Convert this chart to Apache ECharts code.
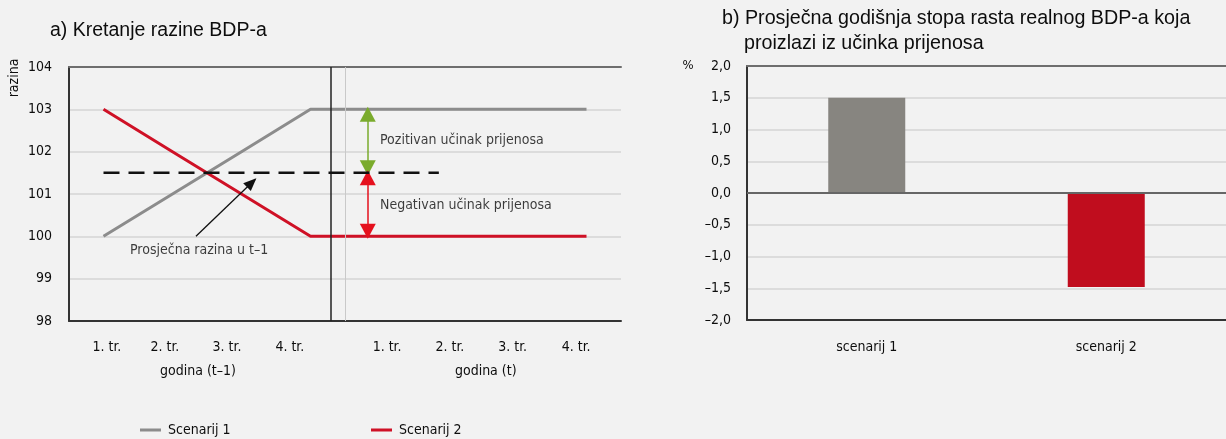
<!DOCTYPE html>
<html><head><meta charset="utf-8">
<script src="https://cdn.jsdelivr.net/npm/echarts@6/dist/echarts.min.js"></script>
<style>html,body{margin:0;background:#f2f2f2}#c{width:1226px;height:439px}</style>
</head><body><div id="c"></div>
<script>
// ---- data ----
const quarters = ['1. tr.', '2. tr.', '3. tr.', '4. tr.', '1. tr.', '2. tr.', '3. tr.', '4. tr.'];
const yearLabels = ['godina (t–1)', 'godina (t)'];
const seriesNames = ['Scenarij 1', 'Scenarij 2'];
const scenario1 = [100, 101, 102, 103, 103, 103, 103, 103];
const scenario2 = [103, 102, 101, 100, 100, 100, 100, 100];
const averageLevel = 101.5;
const levelTop = 103;
const levelBottom = 100;
const barCategories = ['scenarij 1', 'scenarij 2'];
const barValues = [1.5, -1.48];
const annotationTexts = ['Pozitivan učinak prijenosa', 'Negativan učinak prijenosa', 'Prosječna razina u t–1'];

// ---- layout helpers (positions on the 0..8 quarter scale) ----
const quarterLabelPos = [0.55, 1.39, 2.29, 3.2, 4.61, 5.52, 6.43, 7.35];
const yearLabelPos = [1.87, 6.04];
const FONT = "'DejaVu Sans Condensed', 'Liberation Sans Narrow', sans-serif";
const TFONT = "'Liberation Sans', Arial, sans-serif";
const FS = 14;
const TXT = '#0d0d0d';
const GRID = '#d5d5d5';
const GRAY = '#8c8c8c';
const RED = '#cf1126';

function nearestIdx(arr, v) {
  let b = 0;
  for (let i = 1; i < arr.length; i++) if (Math.abs(arr[i] - v) < Math.abs(arr[b] - v)) b = i;
  return b;
}
const fmtPct = v => (v < 0 ? '–' : '') + Math.abs(v).toFixed(1).replace('.', ',');

const chart = echarts.init(document.getElementById('c'), null, { renderer: 'canvas' });
const hiddenAxis = { axisLine: { show: false }, axisTick: { show: false }, axisLabel: { show: false }, splitLine: { show: false } };
const tri = { symbol: 'triangle', symbolSize: [16, 15], symbolOffset: [0, 5] };

const option = {
  backgroundColor: '#f2f2f2',
  animation: false,
  textStyle: { fontFamily: FONT, fontSize: FS, color: TXT },
  title: [
    { text: 'a) Kretanje razine BDP-a', left: 50, top: 21, padding: 0, textStyle: { fontFamily: TFONT, fontSize: 19.5, fontWeight: 'normal', color: TXT } },
    { text: 'b) Prosječna godišnja stopa rasta realnog BDP-a koja', left: 722, top: 9, padding: 0, textStyle: { fontFamily: TFONT, fontSize: 19.7, fontWeight: 'normal', color: TXT } },
    { text: 'proizlazi iz učinka prijenosa', left: 744, top: 34, padding: 0, textStyle: { fontFamily: TFONT, fontSize: 19.7, fontWeight: 'normal', color: TXT } }
  ],
  legend: [
    { data: [seriesNames[0]], left: 140, top: 423, icon: 'rect', itemWidth: 21, itemHeight: 3, padding: 0, textStyle: { fontFamily: FONT, fontSize: FS, color: TXT, padding: [0, 0, 0, 2] } },
    { data: [seriesNames[1]], left: 371, top: 423, icon: 'rect', itemWidth: 21, itemHeight: 3, padding: 0, textStyle: { fontFamily: FONT, fontSize: FS, color: TXT, padding: [0, 0, 0, 2] } }
  ],
  graphic: [
    { type: 'text', x: 14, y: 78, rotation: Math.PI / 2, style: { text: 'razina', align: 'center', verticalAlign: 'middle', fontFamily: FONT, fontSize: FS, fill: TXT } },
    { type: 'text', x: 688, y: 66, style: { text: '%', align: 'center', verticalAlign: 'middle', fontFamily: FONT, fontSize: 13, fill: TXT } }
  ],
  grid: [
    { left: 69, top: 67, width: 552, height: 254 },
    { left: 747, top: 66, width: 480, height: 254 }
  ],
  xAxis: [
    { type: 'category', gridIndex: 0, data: quarters, boundaryGap: true, position: 'bottom',
      axisLine: { onZero: false, lineStyle: { color: '#333', width: 2 } }, axisTick: { show: false }, axisLabel: { show: false }, splitLine: { show: false } },
    Object.assign({ type: 'value', gridIndex: 0, min: 0, max: 8, position: 'bottom' }, hiddenAxis),
    { type: 'value', gridIndex: 0, min: 0, max: 8, position: 'bottom',
      axisLine: { show: false }, axisTick: { show: false }, splitLine: { show: false },
      axisLabel: { customValues: quarterLabelPos, margin: 19, fontSize: FS, color: TXT, fontFamily: FONT,
        formatter: v => quarters[nearestIdx(quarterLabelPos, v)] } },
    { type: 'value', gridIndex: 0, min: 0, max: 8, position: 'bottom',
      axisLine: { show: false }, axisTick: { show: false }, splitLine: { show: false },
      axisLabel: { customValues: yearLabelPos, margin: 43, fontSize: FS, color: TXT, fontFamily: FONT,
        formatter: v => yearLabels[nearestIdx(yearLabelPos, v)] } },
    { type: 'value', gridIndex: 0, min: 0, max: 8, position: 'top',
      axisLine: { show: true, onZero: false, lineStyle: { color: '#6e6e6e', width: 2 } }, axisTick: { show: false }, axisLabel: { show: false }, splitLine: { show: false } },
    { type: 'category', gridIndex: 1, data: barCategories, position: 'bottom',
      axisLine: { onZero: false, lineStyle: { color: '#333', width: 2 } }, axisTick: { show: false },
      axisLabel: { margin: 20, fontSize: FS, color: TXT, fontFamily: FONT }, splitLine: { show: false } },
    { type: 'category', gridIndex: 1, data: barCategories, position: 'top',
      axisLine: { show: true, onZero: false, lineStyle: { color: '#6e6e6e', width: 2 } }, axisTick: { show: false }, axisLabel: { show: false }, splitLine: { show: false } }
  ],
  yAxis: [
    { type: 'value', gridIndex: 0, min: 98, max: 104, interval: 1,
      axisLine: { show: true, lineStyle: { color: '#333', width: 2 } }, axisTick: { show: false },
      axisLabel: { margin: 17, fontSize: FS, color: TXT, fontFamily: FONT },
      splitLine: { lineStyle: { color: GRID, width: 1.5 } } },
    { type: 'value', gridIndex: 1, min: -2, max: 2, interval: 0.5,
      axisLine: { show: true, lineStyle: { color: '#333', width: 2 } }, axisTick: { show: false },
      axisLabel: { margin: 16, fontSize: FS, color: TXT, fontFamily: FONT, formatter: fmtPct },
      splitLine: { lineStyle: { color: GRID, width: 1.5 } } }
  ],
  series: [
    { name: seriesNames[0], type: 'line', xAxisIndex: 0, yAxisIndex: 0, data: scenario1, symbol: 'none',
      lineStyle: { color: GRAY, width: 3 }, itemStyle: { color: GRAY }, z: 3 },
    { name: seriesNames[1], type: 'line', xAxisIndex: 0, yAxisIndex: 0, data: scenario2, symbol: 'none',
      lineStyle: { color: RED, width: 3 }, itemStyle: { color: RED }, z: 4 },
    { type: 'line', xAxisIndex: 1, yAxisIndex: 0, data: [[0.5, averageLevel], [5.36, averageLevel]], symbol: 'none', silent: true,
      lineStyle: { color: '#111', width: 2.5, type: [16, 9] }, z: 5,
      markLine: {
        silent: true, symbol: 'none', label: { show: false }, animation: false,
        data: [
          [{ coord: [3.8, 98] }, { coord: [3.8, 104], lineStyle: { color: '#222', width: 1.5, type: 'solid' } }],
          [{ coord: [4.0, 98] }, { coord: [4.0, 104], lineStyle: { color: '#c9c9c9', width: 1, type: 'solid' } }],
          [Object.assign({ coord: [4.33, levelTop] }, tri), Object.assign({ coord: [4.33, averageLevel], lineStyle: { color: '#7aab2c', width: 1.5, type: 'solid' }, itemStyle: { color: '#7aab2c' } }, tri)],
          [Object.assign({ coord: [4.33, averageLevel] }, tri), Object.assign({ coord: [4.33, levelBottom], lineStyle: { color: '#e5101d', width: 1.5, type: 'solid' }, itemStyle: { color: '#e5101d' } }, tri)],
          [{ coord: [1.84, 100.0] }, { coord: [2.70, 101.35], symbol: 'triangle', symbolSize: [11, 13], symbolOffset: [0, 5], lineStyle: { color: '#111', width: 1.3, type: 'solid' }, itemStyle: { color: '#111' } }]
        ]
      }
    },
    { type: 'scatter', xAxisIndex: 1, yAxisIndex: 0, symbolSize: 0, silent: true, z: 6,
      data: [
        { value: [4.507, 102.26], name: annotationTexts[0] },
        { value: [4.507, 100.72], name: annotationTexts[1] },
        { value: [0.884, 99.66], name: annotationTexts[2] }
      ],
      label: { show: true, position: 'right', distance: 0, formatter: p => p.name, fontFamily: FONT, fontSize: FS, color: TXT } },
    { type: 'bar', xAxisIndex: 5, yAxisIndex: 1, barWidth: 77,
      data: barValues.map((v, i) => ({ value: v, itemStyle: { color: i === 0 ? '#878580' : '#c00d1e' } })),
      markLine: { silent: true, symbol: 'none', label: { show: false }, data: [{ yAxis: 0 }], lineStyle: { color: '#666', width: 2, type: 'solid' } } }
  ]
};
chart.setOption(option);
</script>
</body></html>
